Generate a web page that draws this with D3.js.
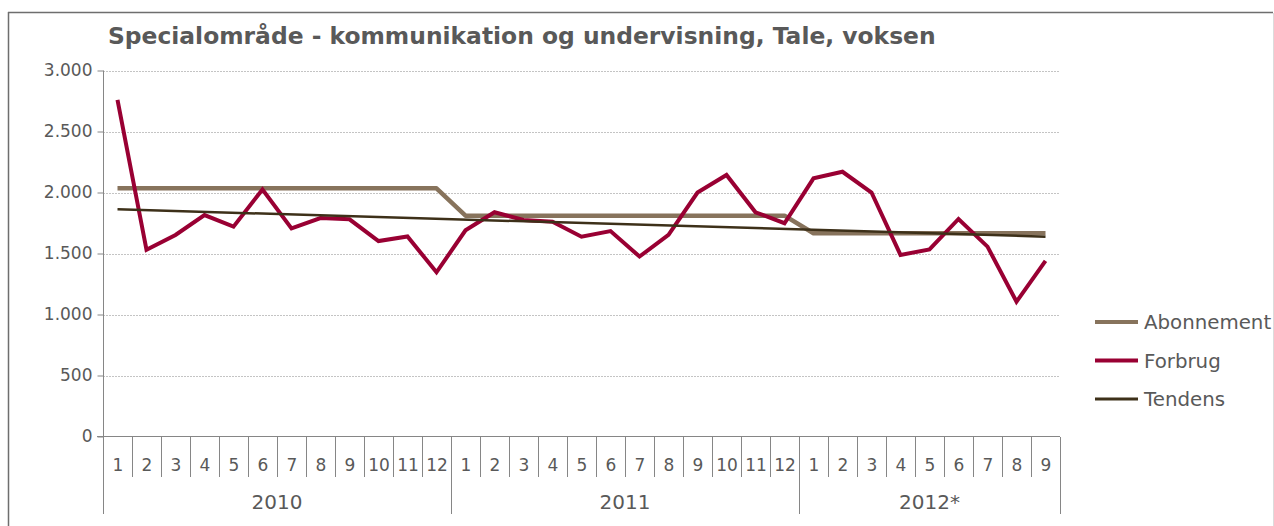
<!DOCTYPE html>
<html><head><meta charset="utf-8">
<script src="https://cdn.jsdelivr.net/npm/d3@7"></script>
<style>html,body{margin:0;padding:0;background:#fff;overflow:hidden} svg{display:block}</style>
</head><body>
<script>
// ---- data ----
const title = "Specialområde - kommunikation og undervisning, Tale, voksen";
const years = ["2010", "2011", "2012*"];
const months2010 = ["1","2","3","4","5","6","7","8","9","10","11","12"];
const months2011 = ["1","2","3","4","5","6","7","8","9","10","11","12"];
const months2012 = ["1","2","3","4","5","6","7","8","9"];
const yTicks = [0, 500, 1000, 1500, 2000, 2500, 3000];
const seriesNames = ["Abonnement", "Forbrug", "Tendens"];
const abonnement = [2034,2034,2034,2034,2034,2034,2034,2034,2034,2034,2034,2034,
                    1810,1810,1810,1810,1810,1810,1810,1810,1810,1810,1810,1810,
                    1666,1666,1666,1666,1666,1666,1666,1666,1666];
const forbrug = [2760,1530,1652,1815,1720,2025,1706,1790,1780,1602,1640,1346,
                 1690,1838,1775,1760,1638,1684,1475,1652,2000,2144,1838,1748,
                 2116,2170,2000,1488,1534,1783,1556,1105,1440];
// trend line: values at first and last category
const tendens = [1862, 1638];

// ---- build ----
const W = 1274, H = 526;
const monthsByYear = [months2010, months2011, months2012];
const cats = [];
years.forEach((yr, i) => monthsByYear[i].forEach(m => cats.push({year: yr, month: m, key: yr + "-" + m})));
const keys = cats.map(c => c.key);

const svg = d3.select("body").append("svg").attr("width", W).attr("height", H);
const font = "'DejaVu Sans', Verdana, sans-serif";
const textCol = "#595959";

// frame
svg.append("line").attr("x1", 8.5).attr("x2", 8.5).attr("y1", 12).attr("y2", H).attr("stroke", "#6e6e6e").attr("stroke-width", 1.5);
svg.append("line").attr("x1", 8).attr("x2", 1273).attr("y1", 12.5).attr("y2", 12.5).attr("stroke", "#6e6e6e").attr("stroke-width", 1.5);
svg.append("line").attr("x1", 1273.5).attr("x2", 1273.5).attr("y1", 13).attr("y2", H).attr("stroke", "#dcdcdc").attr("stroke-width", 1);

const x = d3.scaleBand().domain(keys).range([103, 1060]).paddingInner(0).paddingOuter(0);
const y = d3.scaleLinear().domain([0, 3000]).range([436.5, 70.5]);
const loc = d3.formatLocale({decimal: ",", thousands: ".", grouping: [3], currency: ["", ""]});
const fmt = loc.format(",d");

// title
svg.append("text").attr("x", 108).attr("y", 44).attr("font-family", font)
  .attr("font-weight", "bold").attr("font-size", 23.4).attr("fill", textCol).text(title);

// gridlines
svg.append("g").selectAll("line").data(yTicks.filter(v => v > 0)).join("line")
  .attr("x1", 103).attr("x2", 1060).attr("y1", d => Math.round(y(d)) + 0.5).attr("y2", d => Math.round(y(d)) + 0.5)
  .attr("stroke", "#c4c4c4").attr("stroke-width", 1).attr("stroke-dasharray", "2,1");

// y axis
const yAxis = d3.axisLeft(y).tickValues(yTicks).tickFormat(fmt).tickSize(6).tickPadding(5);
const gy = svg.append("g").attr("transform", "translate(103.5,0)").call(yAxis);
gy.select(".domain").attr("stroke", "#868686").attr("d", `M0,${y(3000)}V${y(0)}`);
gy.selectAll(".tick line").attr("stroke", "#868686");
gy.selectAll(".tick text").attr("font-family", font).attr("font-size", 17).attr("fill", textCol);

// x axis baseline
svg.append("line").attr("x1", 97).attr("x2", 1060).attr("y1", 436.5).attr("y2", 436.5).attr("stroke", "#868686");

// month separators
const bounds = keys.map(k => x(k)).concat([x(keys[keys.length - 1]) + x.bandwidth()]);
svg.append("g").selectAll("line").data(bounds).join("line")
  .attr("x1", d => Math.round(d) + 0.5).attr("x2", d => Math.round(d) + 0.5)
  .attr("y1", 437).attr("y2", 477).attr("stroke", "#868686");
// year separators
let idx = 0; const yb = [x(keys[0])];
monthsByYear.forEach(ms => { idx += ms.length; yb.push(idx < keys.length ? x(keys[idx]) : x(keys[keys.length-1]) + x.bandwidth()); });
svg.append("g").selectAll("line").data(yb).join("line")
  .attr("x1", d => Math.round(d) + 0.5).attr("x2", d => Math.round(d) + 0.5)
  .attr("y1", 477).attr("y2", 514).attr("stroke", "#868686");

// month labels
svg.append("g").selectAll("text").data(cats).join("text")
  .attr("x", d => x(d.key) + x.bandwidth() / 2 + 0.5).attr("y", 465).attr("dy", "0.36em")
  .attr("text-anchor", "middle").attr("font-family", font).attr("font-size", 17).attr("fill", textCol)
  .text(d => d.month);
// year labels
svg.append("g").selectAll("text").data(years).join("text")
  .attr("x", (d, i) => (yb[i] + yb[i + 1]) / 2).attr("y", 502).attr("dy", "0.36em")
  .attr("text-anchor", "middle").attr("font-family", font).attr("font-size", 20).attr("fill", textCol)
  .text(d => d);

// lines
const cx = i => x(keys[i]) + x.bandwidth() / 2;
const line = d3.line().x(d => cx(d[0])).y(d => y(d[1]));
const colors = {Abonnement: "#87735c", Forbrug: "#990033", Tendens: "#3d3019"};
const widths = {Abonnement: 4.5, Forbrug: 4, Tendens: 2.5};
svg.append("path").attr("d", line(abonnement.map((v, i) => [i, v])))
  .attr("fill", "none").attr("stroke", colors.Abonnement).attr("stroke-width", widths.Abonnement).attr("stroke-linejoin", "round");
svg.append("path").attr("d", line(forbrug.map((v, i) => [i, v])))
  .attr("fill", "none").attr("stroke", colors.Forbrug).attr("stroke-width", widths.Forbrug).attr("stroke-linejoin", "miter");
svg.append("path").attr("d", line([[0, tendens[0]], [keys.length - 1, tendens[1]]]))
  .attr("fill", "none").attr("stroke", colors.Tendens).attr("stroke-width", widths.Tendens);

// legend
const lg = svg.append("g").selectAll("g").data(seriesNames).join("g")
  .attr("transform", (d, i) => `translate(1095,${322 + i * 38.5})`);
lg.append("line").attr("x1", 0).attr("x2", 43).attr("y1", 0).attr("y2", 0)
  .attr("stroke", d => colors[d]).attr("stroke-width", d => d === "Tendens" ? 3 : 4);
lg.append("text").attr("x", 49).attr("y", 0).attr("dy", "0.36em").attr("font-family", font)
  .attr("font-size", 19.8).attr("fill", textCol).text(d => d);
</script>
</body></html>
